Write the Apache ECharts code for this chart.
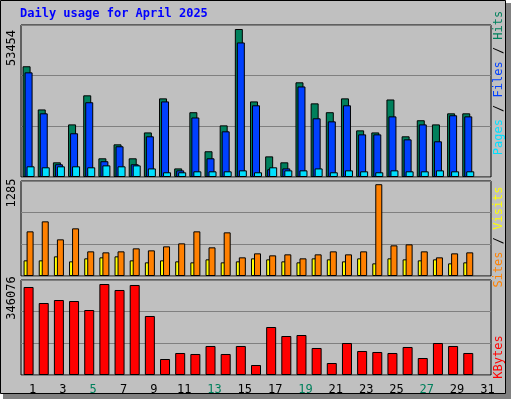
<!DOCTYPE html>
<html><head><meta charset="utf-8">
<script src="https://cdn.jsdelivr.net/npm/echarts@6/dist/echarts.min.js"></script>
<style>html,body{margin:0;padding:0;background:#fff}#c{width:512px;height:400px}</style>
</head><body><div id="c"></div>
<script>
const days = ['1','2','3','4','5','6','7','8','9','10','11','12','13','14','15','16','17','18','19','20','21','22','23','24','25','26','27','28','29','30','31'];
const weekend = ['5','6','12','13','19','20','26','27'];
const hits  = [40000,24400,5300,19000,29500,6750,11800,6750,16100,28400,3100,23400,9300,18650,53454,27300,7450,5300,34200,26600,23400,28400,16850,16100,28000,14700,20500,19000,23000,23000,null];
const files = [37800,23000,4600,15800,27000,5700,11100,4600,14700,27300,2400,21500,6750,16500,48600,25900,2800,3100,32700,21200,20100,25900,15400,15400,21900,13600,19000,12900,22300,21900,null];
const pages = [3860,3500,3860,3860,3500,4200,3860,4200,3100,1700,1700,2050,2050,2050,2400,1700,3500,2400,2400,3100,1700,2400,2050,1700,2400,2050,2050,2400,2050,2050,null];
const visits = [219,219,275,205,247,261,275,219,191,219,205,191,233,191,205,247,233,205,191,247,233,205,247,177,247,233,219,233,177,191,null];
const sites  = [625,765,513,667,345,331,345,387,359,415,457,625,401,611,261,317,289,303,247,303,345,303,345,1285,429,443,345,261,317,331,null];
const kbytes = [334700,273800,285200,281400,247200,346076,323300,342300,224400,60850,83700,79900,110300,79900,110300,38000,182500,148300,152100,102700,45600,121700,91300,87500,83700,106500,64650,121700,110300,83700,null];
const maxLabels = ['53454','1285','346076'];

const F = 'DejaVu Sans Mono';
const ax = [54900, 1330, 361300];
const grids = [
  {left:21, right:21, top:25, height:152},
  {left:21, right:21, top:181, height:95},
  {left:21, right:21, top:280, height:95}
].map(g=>Object.assign({show:true, borderColor:'#000', borderWidth:1, backgroundColor:'transparent'}, g));
const xAxes = [0,1,2].map(i=>({type:'category', gridIndex:i, data:days, axisLine:{show:false}, axisTick:{show:false},
  axisLabel: i<2 ? {show:false} : {show:true, fontFamily:F, fontSize:12, margin:9, padding:[0,0,0,8],
    color:(v)=>weekend.includes(v)?'#00805c':'#000'}}));
const yAxes = [0,1,2].map(i=>({type:'value', gridIndex:i, min:0, max:ax[i], interval:ax[i]/3,
  axisLabel:{show:false}, axisLine:{show:false}, axisTick:{show:false},
  splitLine:{show:true, lineStyle:{color:'#808080', width:1}}}));
const bs = (name, data, color, xi, w, gap) => ({type:'bar', name, data, xAxisIndex:xi, yAxisIndex:xi,
  barWidth:w, barGap:gap, itemStyle:{color, borderColor:'#000', borderWidth:1}, animation:false});
const chart = echarts.init(document.getElementById('c'));
chart.setOption({
  animation:false,
  backgroundColor:'#fff',
  grid:grids, xAxis:xAxes, yAxis:yAxes,
  graphic:[
    {type:'rect', shape:{x:3,y:3,width:508,height:396}, style:{fill:'#808080'}, z:-20},
    {type:'rect', shape:{x:0.5,y:0.5,width:505,height:393}, style:{fill:'#c0c0c0', stroke:'#000', lineWidth:1}, z:-10},
    {type:'text', left:20, top:8, style:{text:'Daily usage for April 2025', fill:'#0000ff', font:'bold 12px "'+F+'"'}},
    {type:'text', x:6, y:48, rotation:Math.PI/2, style:{text:maxLabels[0], fill:'#000', font:'12px "'+F+'"', align:'center', verticalAlign:'top'}},
    {type:'text', x:6, y:193, rotation:Math.PI/2, style:{text:maxLabels[1], fill:'#000', font:'12px "'+F+'"', align:'center', verticalAlign:'top'}},
    {type:'text', x:6, y:298, rotation:Math.PI/2, style:{text:maxLabels[2], fill:'#000', font:'12px "'+F+'"', align:'center', verticalAlign:'top'}},
    {type:'text', x:493, y:83, rotation:Math.PI/2, style:{text:'{p|Pages}{s| / }{f|Files}{s| / }{h|Hits}', font:'12px "'+F+'"', align:'center', verticalAlign:'top',
      rich:{p:{fill:'#00e0ff',font:'12px "'+F+'"'}, f:{fill:'#0040ff',font:'12px "'+F+'"'}, h:{fill:'#00805c',font:'12px "'+F+'"'}, s:{fill:'#000',font:'12px "'+F+'"'}}}},
    {type:'text', x:493, y:237, rotation:Math.PI/2, style:{text:'{a|Sites}{s| / }{b|Visits}', font:'12px "'+F+'"', align:'center', verticalAlign:'top',
      rich:{a:{fill:'#ff8000',font:'12px "'+F+'"'}, b:{fill:'#ffff00',font:'12px "'+F+'"'}, s:{fill:'#000',font:'12px "'+F+'"'}}}},
    {type:'text', x:493, y:357, rotation:Math.PI/2, style:{text:'KBytes', fill:'#ff0000', font:'12px "'+F+'"', align:'center', verticalAlign:'top'}}
  ],
  series:[
    bs('Hits', hits, '#00805c', 0, 8, '-75%'),
    bs('Files', files, '#0040ff', 0, 8, '-75%'),
    bs('Pages', pages, '#00e0ff', 0, 8, '-75%'),
    bs('Visits', visits, '#ffff00', 1, 7, '-57%'),
    bs('Sites', sites, '#ff8000', 1, 7, '-57%'),
    bs('KBytes', kbytes, '#ff0000', 2, 10, '0%')
  ]
});
</script></body></html>
